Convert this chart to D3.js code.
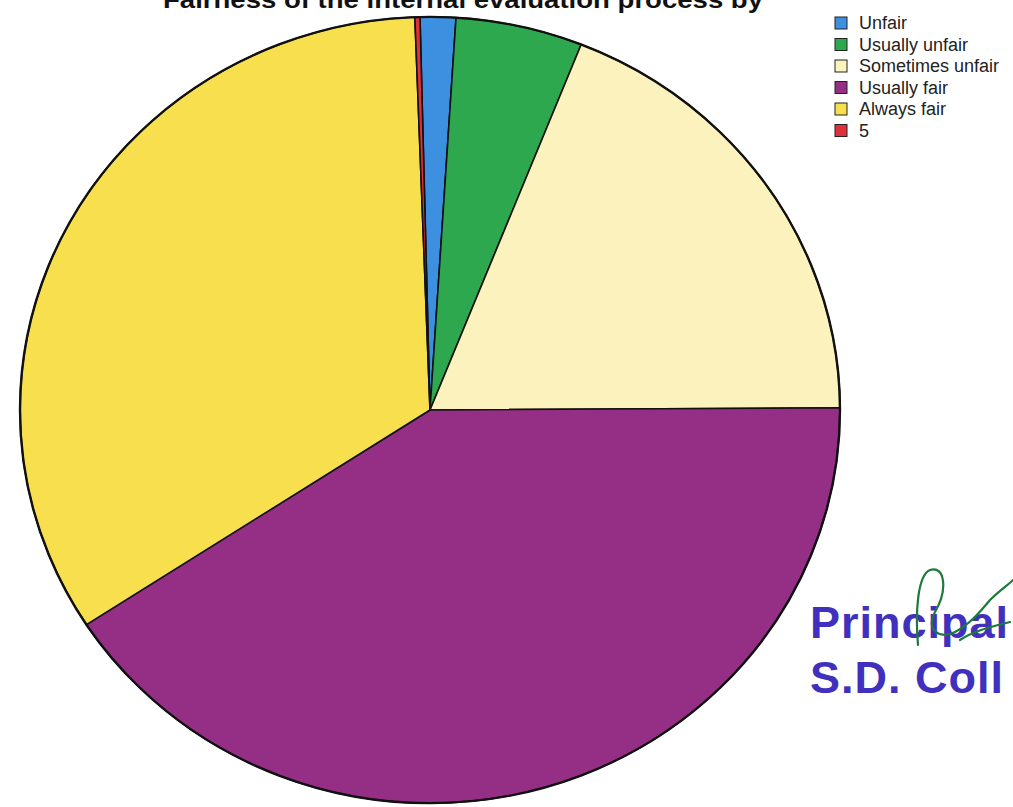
<!DOCTYPE html>
<html>
<head>
<meta charset="utf-8">
<script src="https://cdn.jsdelivr.net/npm/d3@7/dist/d3.min.js"></script>
<style>
  body { margin: 0; background: #fff; }
  svg { display: block; }
</style>
</head>
<body>
<div class="chart"></div>
<script>
// data (share of answers, %)
var categories = ["Unfair", "Usually unfair", "Sometimes unfair", "Usually fair", "Always fair", "5"];
var values = [1.4, 5.0, 18.9, 40.9, 33.6, 0.2];
var colors = ["#3d8fe0", "#2ea84f", "#fbf2bd", "#952f85", "#f8df4e", "#e0303c"];

var title = "Fairness of the internal evaluation process by";
var stampLines = ["Principal", "S.D. Coll"];

var width = 1013, height = 807;

var svg = d3.select("div.chart").append("svg")
    .attr("width", width)
    .attr("height", height);

// title, cut off at the top edge like the scan
svg.append("text")
    .attr("x", 163)
    .attr("y", 8)
    .attr("font-family", "Liberation Sans, Arial, sans-serif")
    .attr("font-weight", "bold")
    .attr("font-size", 24)
    .attr("textLength", 600)
    .attr("lengthAdjust", "spacingAndGlyphs")
    .attr("fill", "#111")
    .text(title);

// pie
var radius = 410;
var start = -1.4 * Math.PI / 180;   // scan is rotated a little

var pie = d3.pie()
    .sort(null)
    .startAngle(start)
    .endAngle(start + 2 * Math.PI)
    .value(function(d) { return d.value; });

var arc = d3.arc().innerRadius(0).outerRadius(radius);

var data = categories.map(function(c, i) {
  return {name: c, value: values[i], color: colors[i]};
});

var g = svg.append("g")
    .attr("transform", "translate(430,410) scale(1,0.959)");

g.selectAll("path.slice")
    .data(pie(data))
    .enter().append("path")
      .attr("class", "slice")
      .attr("d", arc)
      .attr("fill", function(d) { return d.data.color; })
      .attr("stroke", "#111")
      .attr("stroke-width", 1.6)
      .attr("stroke-linejoin", "round");

g.append("circle")
    .attr("r", radius)
    .attr("fill", "none")
    .attr("stroke", "#111")
    .attr("stroke-width", 2.4);

// legend
var legend = svg.append("g")
    .attr("transform", "translate(835,17)");

var row = legend.selectAll("g.row")
    .data(data)
    .enter().append("g")
      .attr("class", "row")
      .attr("transform", function(d, i) { return "translate(0," + (i * 21.5) + ")"; });

row.append("rect")
    .attr("width", 12)
    .attr("height", 12)
    .attr("fill", function(d) { return d.color; })
    .attr("stroke", "#222")
    .attr("stroke-width", 1);

row.append("text")
    .attr("x", 24)
    .attr("y", 12)
    .attr("font-family", "Liberation Sans, Arial, sans-serif")
    .attr("font-size", 18)
    .attr("fill", "#222")
    .text(function(d) { return d.name; });

// rubber stamp + signature in the lower right corner
var stamp = svg.append("g");

stamp.selectAll("text")
    .data(stampLines)
    .enter().append("text")
      .attr("x", 810)
      .attr("y", function(d, i) { return 638 + i * 55; })
      .attr("font-family", "Liberation Sans, Arial, sans-serif")
      .attr("font-weight", "bold")
      .attr("font-size", 45)
      .attr("fill", "#4130bd")
      .attr("letter-spacing", 1)
      .text(function(d) { return d; });

stamp.append("path")
    .attr("d", "M918,645 C915,610 918,575 930,570 C945,565 948,590 935,612 C925,630 940,640 955,632 C970,624 980,612 990,600 C1000,590 1008,585 1013,580 M960,640 C975,630 995,626 1010,622")
    .attr("fill", "none")
    .attr("stroke", "#1e7a3a")
    .attr("stroke-width", 2.2)
    .attr("stroke-linecap", "round");
</script>
</body>
</html>
